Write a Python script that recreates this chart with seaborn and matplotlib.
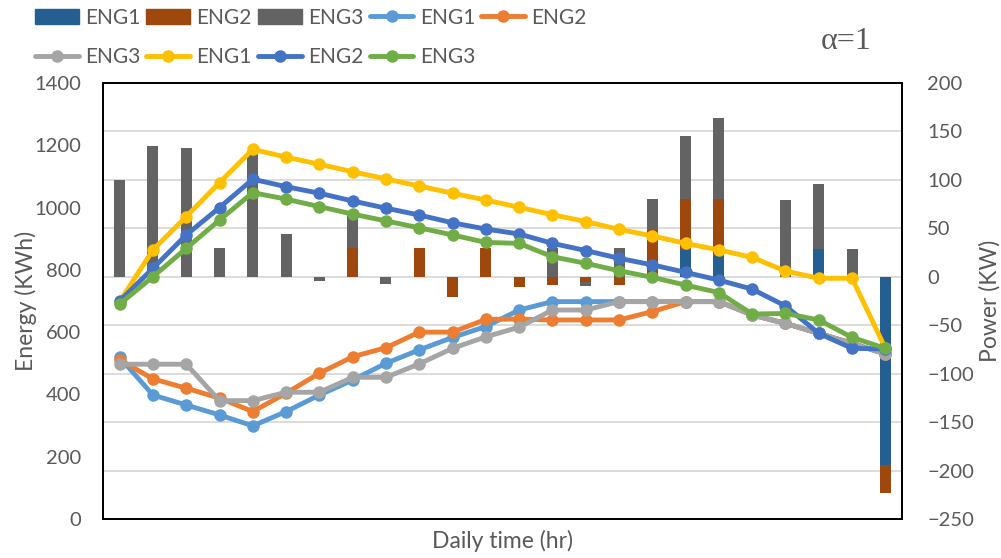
import numpy as np
import matplotlib
matplotlib.use('Agg')
import matplotlib.pyplot as plt
import seaborn as sns
from matplotlib.lines import Line2D
from matplotlib.patches import Patch

# hours of the day
hours = list(range(1, 25))

# energy curves (KWh), left axis - first group
e1_a = [519, 398, 366, 334, 299, 345, 398, 446, 500, 543, 583, 618,
        671, 698, 698, 698, 698, 698, 698, 655, 628, 596, 564, 530]
e2_a = [511, 450, 420, 388, 345, 404, 468, 521, 550, 600, 600, 641,
        642, 639, 639, 639, 666, 698, 698, 655, 628, 596, 564, 530]
e3_a = [497, 497, 497, 380, 380, 407, 407, 455, 455, 498, 548, 585,
        616, 671, 671, 698, 698, 698, 698, 655, 628, 596, 564, 530]

# energy curves (KWh), left axis - second group
e1_b = [698, 864, 971, 1080, 1187, 1162, 1139, 1115, 1092, 1069, 1046, 1024,
        1001, 977, 955, 930, 909, 885, 864, 840, 796, 773, 773, 548]
e2_b = [700, 805, 912, 1000, 1091, 1067, 1046, 1021, 998, 976, 951, 931,
        915, 885, 862, 837, 816, 792, 767, 738, 684, 596, 548, 546]
e3_b = [690, 778, 869, 960, 1048, 1027, 1003, 979, 957, 935, 912, 888,
        885, 842, 821, 797, 776, 751, 727, 658, 660, 639, 583, 548]

# power bars (KW), right axis
p1 = [0, 0, 0, 0, 0, 0, 0, 0, 0, 0, 0, 0,
      0, 0, 0, 0, 0, 28, 21, 0, 0, 29, 0, -194]
p2 = [0, 0, 0, 0, 0, 0, 0, 30, 0, 30, -21, 30,
      -11, -9, -5, -8, 48, 52, 59, 0, 0, 0, 0, -29]
p3 = [100, 135, 133, 30, 130, 44, -4, 35, -7, 0, 0, 0,
      0, 30, -5, 30, 32, 65, 84, 0, 79, 67, 29, 0]

sns.set_theme(style='white')
plt.rcParams['font.family'] = ['Lato', 'DejaVu Sans']

txt = '#595959'
bar_cols = ['#255E91', '#9E480E', '#636363']
line_cols_a = ['#5B9BD5', '#ED7D31', '#A5A5A5']
line_cols_b = ['#FFC000', '#4472C4', '#70AD47']
lw, ms = 3.5, 9

fig = plt.figure(figsize=(10.01, 5.58), dpi=100)
ax = fig.add_axes([0.1029, 0.0699, 0.7982, 0.7814])
ax2 = ax.twinx()

# stacked bars on the power axis (positives up, negatives down)
x = np.arange(len(hours))
pos_base = np.zeros(len(hours))
neg_base = np.zeros(len(hours))
for vals, c in zip([p1, p2, p3], bar_cols):
    v = np.array(vals, dtype=float)
    pos = np.where(v > 0, v, 0)
    neg = np.where(v < 0, v, 0)
    ax2.bar(x, pos, 0.33, bottom=pos_base, color=c, linewidth=0)
    ax2.bar(x, neg, 0.33, bottom=neg_base, color=c, linewidth=0)
    pos_base += pos
    neg_base += neg

# energy lines
for vals, c in zip([e1_a, e2_a, e3_a, e1_b, e2_b, e3_b],
                   line_cols_a + line_cols_b):
    sns.lineplot(x=x, y=vals, ax=ax, color=c, linewidth=lw, marker='o',
                 markersize=ms, markeredgewidth=0)

ax.set_zorder(ax2.get_zorder() + 1)
ax.patch.set_visible(False)

ax.set_xlim(-0.5, 23.5)
ax.set_ylim(0, 1400)
ax.set_yticks(range(0, 1401, 200))
ax2.set_ylim(-250, 200)
ax2.set_yticks(range(-250, 201, 50))
ax2.yaxis.grid(True, color='#D9D9D9', linewidth=1.3)
ax2.set_axisbelow(True)
ax.set_xticks([])
ax2.set_xticks([])

ax.tick_params(axis='y', length=0, pad=16, labelsize=14.5, labelcolor=txt)
ax2.tick_params(axis='y', length=0, pad=18, labelsize=14.5, labelcolor=txt)

ax.set_ylabel('Energy (KWh)', fontsize=16.5, color=txt, labelpad=-2)
ax2.set_ylabel('Power (KW)', fontsize=16.5, color=txt, labelpad=4)
ax.set_xlabel('Daily time (hr)', fontsize=16.5, color=txt, labelpad=8)

for a in (ax, ax2):
    for s in a.spines.values():
        s.set_color('#000000')
        s.set_linewidth(1.3)

# legend, filled row by row
handles = [Patch(color=c) for c in bar_cols]
handles += [Line2D([], [], color=c, linewidth=lw, marker='o', markersize=ms,
                   markeredgewidth=0) for c in line_cols_a + line_cols_b]
labels = ['ENG1', 'ENG2', 'ENG3'] * 3
order = [0, 5, 1, 6, 2, 7, 3, 8, 4]
leg = fig.legend([handles[i] for i in order], [labels[i] for i in order],
                 ncol=5, loc='upper left', bbox_to_anchor=(0.016, 1.02),
                 frameon=False, fontsize=15, handlelength=2.1,
                 handletextpad=0.3, columnspacing=0.3, labelspacing=0.95)
for t in leg.get_texts():
    t.set_color(txt)

fig.text(0.845, 0.926, 'α=1', fontsize=23, color=txt,
         family=['Liberation Serif', 'DejaVu Serif'], ha='center', va='center')

fig.savefig('out.png', dpi=100)
